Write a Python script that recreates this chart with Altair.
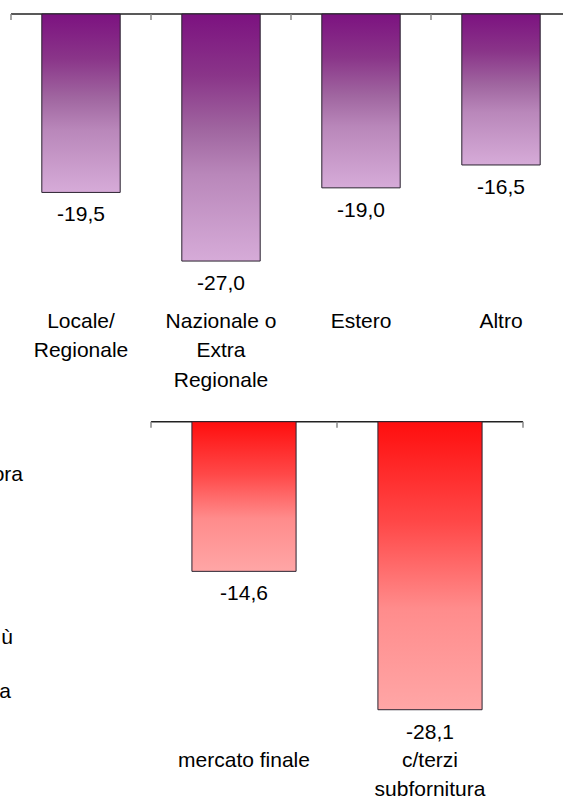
import altair as alt
import pandas as pd

# ---------------- data ----------------
top_categories = ["Locale/|Regionale", "Nazionale o|Extra|Regionale", "Estero", "Altro"]
top_values = [-19.5, -27.0, -19.0, -16.5]
top_value_labels = ["-19,5", "-27,0", "-19,0", "-16,5"]

bottom_categories = ["mercato finale", "c/terzi|subfornitura"]
bottom_values = [-14.6, -28.1]
bottom_value_labels = ["-14,6", "-28,1"]

side_fragments = ["ora", "ù", "a"]

# ---------------- layout / style ----------------
W, H = 563, 798
FONT = "Liberation Sans"
FS = 21

purple = alt.Gradient(
    gradient="linear", x1=0, x2=0, y1=0, y2=1,
    stops=[alt.GradientStop(color="#7C1280", offset=0),
           alt.GradientStop(color="#8A3589", offset=0.25),
           alt.GradientStop(color="#A066A0", offset=0.47),
           alt.GradientStop(color="#B987BA", offset=0.65),
           alt.GradientStop(color="#D6ABD8", offset=1)])
red = alt.Gradient(
    gradient="linear", x1=0, x2=0, y1=0, y2=1,
    stops=[alt.GradientStop(color="#FF0E0E", offset=0),
           alt.GradientStop(color="#FF4848", offset=0.35),
           alt.GradientStop(color="#FF8C8C", offset=0.65),
           alt.GradientStop(color="#FFA6A6", offset=1)])


def panel(categories, values, labels, left_px, step_px, zero_px, px_per_unit,
          fill, label_top_px, line_h):
    n = len(categories)
    df = pd.DataFrame({
        "i": list(range(n)),
        "v": values,
        "lab": labels,
        "cat": categories,
    })
    df["x0"] = df["i"] + 0.22
    df["x1"] = df["i"] + 0.78
    df["mid"] = df["i"] + 0.5
    df["zero"] = 0.0

    xs = alt.Scale(domain=[-left_px / step_px, (W - left_px) / step_px], nice=False, zero=False)
    ys = alt.Scale(domain=[-(H - zero_px) / px_per_unit, zero_px / px_per_unit], nice=False, zero=False)

    base = alt.Chart(df)
    bars = base.mark_bar(fill=fill, stroke="#2b2330", strokeWidth=1).encode(
        x=alt.X("x0:Q", scale=xs, axis=None),
        x2="x1",
        y=alt.Y("zero:Q", scale=ys, axis=None),
        y2="v",
    )
    vals = base.mark_text(font=FONT, fontSize=FS, color="#000000", baseline="middle", dy=23).encode(
        x=alt.X("mid:Q", scale=xs, axis=None),
        y=alt.Y("v:Q", scale=ys, axis=None),
        text="lab:N",
    )
    cats = base.mark_text(font=FONT, fontSize=FS, color="#000000", baseline="top",
                          align="center", lineBreak="|", lineHeight=line_h).encode(
        x=alt.X("mid:Q", scale=xs, axis=None),
        y=alt.value(label_top_px),
        text="cat:N",
    )
    ax_df = pd.DataFrame({"a": [0.0], "b": [float(n)], "zero": [0.0]})
    domain_line = alt.Chart(ax_df).mark_rule(color="#222222", strokeWidth=1.5).encode(
        x=alt.X("a:Q", scale=xs, axis=None),
        x2="b",
        y=alt.Y("zero:Q", scale=ys, axis=None),
    )
    tick_df = pd.DataFrame({"t": [float(k) for k in range(n + 1)], "zero": [0.0] * (n + 1)})
    ticks = alt.Chart(tick_df).mark_rule(color="#888888", strokeWidth=1.5, y2Offset=6).encode(
        x=alt.X("t:Q", scale=xs, axis=None),
        y=alt.Y("zero:Q", scale=ys, axis=None),
        y2="zero",
    )
    return alt.layer(domain_line, ticks, bars, vals, cats)


top = panel(top_categories, top_values, top_value_labels,
            left_px=11, step_px=140, zero_px=14, px_per_unit=9.15,
            fill=purple, label_top_px=311, line_h=29.3)
bottom = panel(bottom_categories, bottom_values, bottom_value_labels,
               left_px=151, step_px=186, zero_px=421.7, px_per_unit=10.25,
               fill=red, label_top_px=749.5, line_h=29)

frag_pos = [(23, 475), (13, 638), (11, 692)]
frags = []
for txt, (fx, fy) in zip(side_fragments, frag_pos):
    frags.append(
        alt.Chart(pd.DataFrame({"t": [txt]})).mark_text(
            font=FONT, fontSize=FS, color="#000000", align="right", baseline="middle"
        ).encode(text="t:N", x=alt.value(fx), y=alt.value(fy))
    )

chart = alt.layer(top, bottom, *frags).resolve_scale(
    x="independent", y="independent"
).properties(
    width=W, height=H, autosize="none", padding=0, background="#ffffff"
).configure_view(stroke=None)

chart.save("out.html", embed_options={"renderer": "svg", "actions": False})
